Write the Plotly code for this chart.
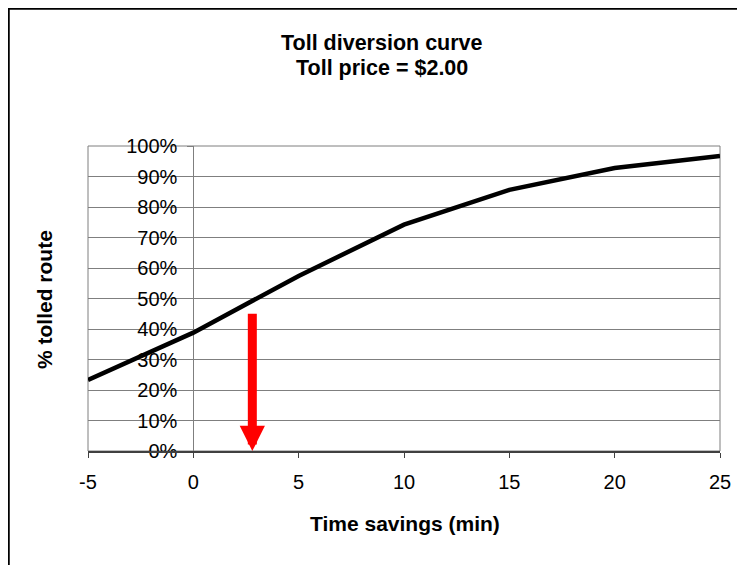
import plotly.graph_objects as go

# ---- data ----
time_savings = [-5, 0, 5, 10, 15, 20, 25]
pct_tolled = [0.233, 0.388, 0.574, 0.742, 0.856, 0.928, 0.967]
y_ticks = [0.0, 0.1, 0.2, 0.3, 0.4, 0.5, 0.6, 0.7, 0.8, 0.9, 1.0]
x_ticks = [-5, 0, 5, 10, 15, 20, 25]
arrow_x = 2.8
arrow_top = 0.455
arrow_tip = 0.0

FONT = "Liberation Sans, Arial, sans-serif"
GRID = "#7f7f7f"

# page has an 8px body margin; work in window pixels and convert
OFF = 8
L, R, T, B = 88, 720, 146, 451   # plot area in window pixels
PW, PH = R - L, B - T


def px(xw):
    return (xw - L) / PW


def py(yw):
    return (B - yw) / PH


fig = go.Figure()
fig.add_trace(go.Scatter(
    x=time_savings, y=pct_tolled, mode="lines",
    line=dict(color="black", width=4.5), showlegend=False, hoverinfo="skip",
))

fig.update_layout(
    width=745, height=565,
    margin=dict(l=L - OFF, r=745 - (R - OFF), t=T - OFF, b=565 - (B - OFF)),
    paper_bgcolor="white", plot_bgcolor="white",
    font=dict(family=FONT, color="black", size=20),
    xaxis=dict(
        range=[-5, 25], tickvals=x_ticks, ticktext=[str(v) for v in x_ticks],
        showgrid=False, zeroline=False,
        showline=True, linecolor="#404040", linewidth=1.5,
        ticks="outside", ticklen=5, tickcolor="#404040", tickwidth=1,
        ticklabelstandoff=7,
        tickfont=dict(size=20, family=FONT, color="black"),
    ),
    yaxis=dict(
        range=[0, 1], tickvals=y_ticks, tickformat=".0%",
        anchor="free", position=5 / 30,
        showgrid=True, gridcolor=GRID, gridwidth=1, zeroline=False,
        showline=True, linecolor=GRID, linewidth=1,
        ticks="outside", ticklen=6, tickcolor=GRID,
        ticklabelstandoff=6,
        layer="below traces",
        tickfont=dict(size=20, family=FONT, color="black"),
    ),
)

# plot-area border (gray) and outer chart frame (black)
fig.add_shape(type="rect", xref="paper", yref="paper", x0=0, x1=1, y0=0, y1=1,
              line=dict(color=GRID, width=1), layer="below")
fig.add_shape(type="rect", xref="paper", yref="paper",
              x0=px(8.5), x1=px(780), y0=py(600), y1=py(8.5),
              line=dict(color="black", width=2.5), layer="above")

# titles
fig.add_annotation(text="<b>Toll diversion curve</b>", xref="paper", yref="paper",
                   x=px(381.5), y=py(42.5), showarrow=False,
                   xanchor="center", yanchor="middle", font=dict(size=21.5, family=FONT))
fig.add_annotation(text="<b>Toll price = $2.00</b>", xref="paper", yref="paper",
                   x=px(381.5), y=py(67.5), showarrow=False,
                   xanchor="center", yanchor="middle", font=dict(size=21.5, family=FONT))
fig.add_annotation(text="<b>Time savings (min)</b>", xref="paper", yref="paper",
                   x=px(405), y=py(523), showarrow=False,
                   xanchor="center", yanchor="middle", font=dict(size=21, family=FONT))
fig.add_annotation(text="<b>% tolled route</b>", xref="paper", yref="paper",
                   x=px(44), y=py(300), showarrow=False, textangle=-90,
                   xanchor="center", yanchor="middle", font=dict(size=21, family=FONT))

# red arrow
fig.add_annotation(x=arrow_x, y=arrow_tip, ax=arrow_x, ay=arrow_top,
                   xref="x", yref="y", axref="x", ayref="y", text="",
                   showarrow=True, arrowhead=2, arrowsize=0.56, arrowwidth=9,
                   arrowcolor="#ff0000", standoff=0)

fig.write_html("out.html")
